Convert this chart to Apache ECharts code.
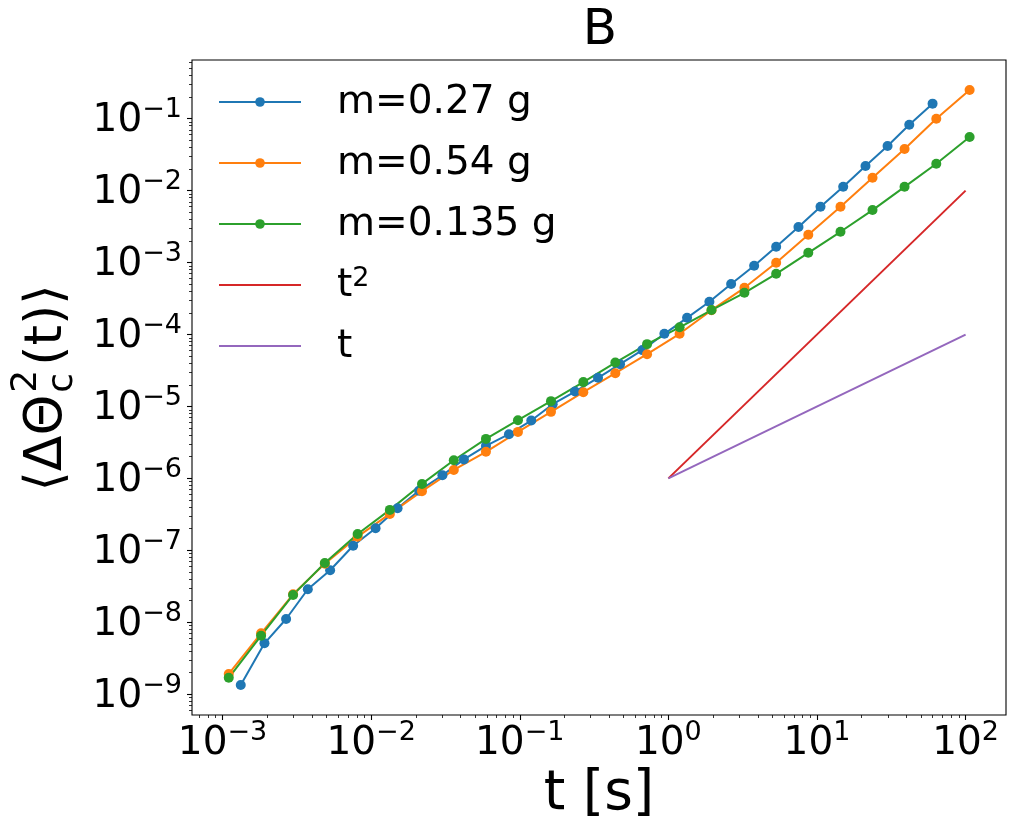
<!DOCTYPE html>
<html><head><meta charset="utf-8">
<script src="https://cdn.jsdelivr.net/npm/echarts@6/dist/echarts.min.js"></script>
<style>html,body{margin:0;padding:0;background:#fff}#c{width:1019px;height:835px}</style>
</head><body><div id="c"></div><script>
// ---- data ----
const tBlue = [1.326e-3,1.915e-3,2.677e-3,3.748e-3,5.295e-3,7.565e-3,1.071e-2,1.506e-2,2.104e-2,3.017e-2,4.209e-2,5.922e-2,8.459e-2,0.1195,0.1665,0.2353,0.3362,0.4728,0.6683,0.9399,1.336,1.888,2.644,3.777,5.313,7.506,10.56,15.01,21.21,29.84,41.78,59.95];
const vBlue = [1.343e-9,5.10e-9,1.11e-8,2.88e-8,5.28e-8,1.16e-7,2.03e-7,3.85e-7,6.76e-7,1.107e-6,1.837e-6,2.83e-6,4.12e-6,6.37e-6,1.076e-5,1.611e-5,2.50e-5,3.87e-5,6.07e-5,1.023e-4,1.706e-4,2.85e-4,5.04e-4,9.02e-4,1.66e-3,3.12e-3,5.97e-3,1.13e-2,2.20e-2,4.17e-2,8.26e-2,0.162];
const tOG = [1.101e-3,1.817e-3,2.983e-3,4.878e-3,8.11e-3,1.336e-2,2.198e-2,3.598e-2,5.922e-2,9.725e-2,0.1622,0.2677,0.4396,0.7187,1.190,1.951,3.249,5.313,8.738,14.39,23.64,38.83,63.49,106.4];
const vOrange = [1.91e-9,7.03e-9,2.45e-8,6.53e-8,1.55e-7,3.21e-7,6.64e-7,1.312e-6,2.34e-6,4.43e-6,8.41e-6,1.58e-5,2.90e-5,5.33e-5,1.023e-4,2.18e-4,4.46e-4,9.93e-4,2.44e-3,5.97e-3,1.51e-2,3.79e-2,0.1,0.2506];
const vGreen = [1.69e-9,6.51e-9,2.40e-8,6.68e-8,1.69e-7,3.65e-7,8.38e-7,1.79e-6,3.54e-6,6.45e-6,1.186e-5,2.18e-5,4.08e-5,7.35e-5,1.259e-4,2.19e-4,3.80e-4,6.98e-4,1.368e-3,2.68e-3,5.37e-3,1.13e-2,2.37e-2,5.56e-2];
const tRef = [1, 100];
const vT2 = [1e-6, 1e-2];
const vT1 = [1e-6, 1e-4];
const seriesNames = ['m=0.27 g','m=0.54 g','m=0.135 g','t2','t'];
const colors = ['#1f77b4','#ff7f0e','#2ca02c','#d62728','#9467bd'];
const xMajor = [1e-3,1e-2,1e-1,1,10,100];
const yMajor = [1e-9,1e-8,1e-7,1e-6,1e-5,1e-4,1e-3,1e-2,1e-1];
const xRange = [6.23e-4, 187];
const yRange = [5.14e-10, 0.655];
const titleText = 'B';
const xLabelText = 't [s]';

// minor ticks 2..9 x 10^d
function minors(d0, d1){ const out=[]; for(let d=d0; d<=d1; d++){ for(let k=2;k<=9;k++){ out.push(+(k*Math.pow(10,d)).toPrecision(3)); } } return out; }
const xMinor = minors(-4, 2);
const yMinor = minors(-10, -1);

function pairs(ts, vs){ return ts.map((t,i)=>[t, vs[i]]); }
const FONT = '"DejaVu Sans", sans-serif';
function expLabel(v){
  const e = Math.round(Math.log10(v));
  const s = e < 0 ? '\u2212' + (-e) : String(e);
  return '{b|10}{s|' + s + '}';
}
const labelRich = {
  b: {fontSize: 39, fontFamily: FONT, color: '#000', lineHeight: 44, verticalAlign: 'bottom'},
  s: {fontSize: 27, fontFamily: FONT, color: '#000', lineHeight: 22, verticalAlign: 'top'}
};

// measure text for y-label layout
const mctx = document.createElement('canvas').getContext('2d');
function tw(s, size){ mctx.font = size + 'px ' + FONT; return mctx.measureText(s).width; }
const YF = 52, YS = 36;
const yl1 = '\u27E8\u0394\u0398', yl2 = '(t)\u27E9';
const w1 = tw(yl1, YF), wsup = Math.max(tw('2', YS), tw('c', YS)), w2 = tw(yl2, YF);
const W = w1 + 2 + wsup + 4 + w2;
const yLabelGroup = {
  type: 'group', x: 47, y: 388 + W/2, rotation: Math.PI/2,
  children: [
    {type:'text', x: 0, y: 0, style:{text: yl1, font: YF+'px '+FONT, fill:'#000', align:'left', verticalAlign:'middle'}},
    {type:'text', x: w1 + 2, y: -20, style:{text: '2', font: YS+'px '+FONT, fill:'#000', align:'left', verticalAlign:'middle'}},
    {type:'text', x: w1 + 2, y: 16, style:{text: 'c', font: YS+'px '+FONT, fill:'#000', align:'left', verticalAlign:'middle'}},
    {type:'text', x: w1 + 2 + wsup + 4, y: 0, style:{text: yl2, font: YF+'px '+FONT, fill:'#000', align:'left', verticalAlign:'middle'}}
  ]
};

const chart = echarts.init(document.getElementById('c'), null, {renderer: 'canvas'});
const common = {type:'line', lineStyle:{width:2}, symbol:'circle', symbolSize:10, showSymbol:true, animation:false, z:2};
chart.setOption({
  animation: false,
  backgroundColor: '#fff',
  grid: {left: 192, right: 13, top: 60, bottom: 120, show: true, borderColor: '#000', borderWidth: 1.1, backgroundColor: 'transparent', containLabel: false},
  xAxis: [
    {type:'log', logBase:10, min: xRange[0], max: xRange[1], gridIndex:0, position:'bottom',
     axisLine:{show:false}, splitLine:{show:false},
     axisTick:{show:true, inside:false, length:5, customValues: xMajor, lineStyle:{color:'#000', width:1.1}},
     axisLabel:{show:true, margin:4, customValues: xMajor, formatter: expLabel, rich: labelRich}},
    {type:'log', logBase:10, min: xRange[0], max: xRange[1], gridIndex:0, position:'bottom',
     axisLine:{show:false}, splitLine:{show:false}, axisLabel:{show:false},
     axisTick:{show:true, inside:false, length:3, customValues: xMinor, lineStyle:{color:'#000', width:0.8}}}
  ],
  yAxis: [
    {type:'log', logBase:10, min: yRange[0], max: yRange[1], gridIndex:0, position:'left',
     axisLine:{show:false}, splitLine:{show:false},
     axisTick:{show:true, inside:false, length:5, customValues: yMajor, lineStyle:{color:'#000', width:1.1}},
     axisLabel:{show:true, margin:10, customValues: yMajor, formatter: expLabel, rich: labelRich}},
    {type:'log', logBase:10, min: yRange[0], max: yRange[1], gridIndex:0, position:'left',
     axisLine:{show:false}, splitLine:{show:false}, axisLabel:{show:false},
     axisTick:{show:true, inside:false, length:3, customValues: yMinor, lineStyle:{color:'#000', width:0.8}}}
  ],
  legend: {
    show: true, orient: 'vertical', left: 218, top: 82, padding: 0,
    itemWidth: 82, itemHeight: 12, itemGap: 21,
    data: [
      {name: seriesNames[0]},
      {name: seriesNames[1]},
      {name: seriesNames[2]},
      {name: seriesNames[3], itemStyle: {opacity: 0}},
      {name: seriesNames[4], itemStyle: {opacity: 0}}
    ],
    formatter: function(n){ return n === 't2' ? '{n|t}{p|2}' : '{n|' + n + '}'; },
    textStyle: {fontSize: 39, fontFamily: FONT, color:'#000', lineHeight: 40, padding: [0,0,0,31],
      rich: {
        n: {fontSize: 39, fontFamily: FONT, color:'#000', lineHeight: 40, verticalAlign:'bottom'},
        p: {fontSize: 27, fontFamily: FONT, color:'#000', lineHeight: 24, verticalAlign:'top'}
      }}
  },
  graphic: [
    {type:'text', x: 600, y: 31, style:{text: titleText, font: '50px '+FONT, fill:'#000', align:'center', verticalAlign:'middle'}},
    {type:'text', x: 599, y: 795, style:{text: xLabelText, font: '55px '+FONT, fill:'#000', align:'center', verticalAlign:'middle'}},
    yLabelGroup
  ],
  series: [
    Object.assign({}, common, {name: seriesNames[0], data: pairs(tBlue, vBlue), itemStyle:{color: colors[0]}, lineStyle:{width:2, color: colors[0]}}),
    Object.assign({}, common, {name: seriesNames[1], data: pairs(tOG, vOrange), itemStyle:{color: colors[1]}, lineStyle:{width:2, color: colors[1]}}),
    Object.assign({}, common, {name: seriesNames[2], data: pairs(tOG, vGreen), itemStyle:{color: colors[2]}, lineStyle:{width:2, color: colors[2]}}),
    {type:'line', name: seriesNames[3], data: pairs(tRef, vT2), symbol:'none', showSymbol:false, itemStyle:{color: colors[3]}, lineStyle:{width:2, color: colors[3]}, animation:false},
    {type:'line', name: seriesNames[4], data: pairs(tRef, vT1), symbol:'none', showSymbol:false, itemStyle:{color: colors[4]}, lineStyle:{width:2, color: colors[4]}, animation:false}
  ]
});
</script></body></html>
